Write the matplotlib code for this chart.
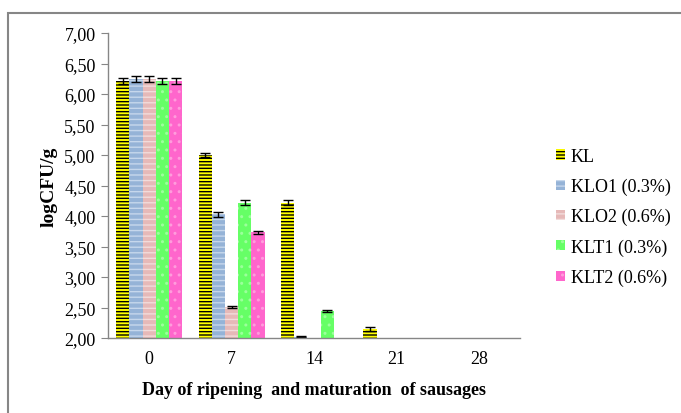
import numpy as np
import matplotlib
matplotlib.use("Agg")
import matplotlib.pyplot as plt
from matplotlib.ticker import FuncFormatter, MultipleLocator
from matplotlib.patches import Rectangle

plt.rcParams['font.family'] = ['Liberation Serif', 'DejaVu Serif']
plt.rcParams['hatch.linewidth'] = 1.0

days = ["0", "7", "14", "21", "28"]
series = ["KL", "KLO1 (0.3%)", "KLO2 (0.6%)", "KLT1 (0.3%)", "KLT2 (0.6%)"]
nan = np.nan
kl   = [6.21, 5.00, 4.22, 2.15, nan]
klo1 = [6.25, 4.03, 2.02, nan, nan]
klo2 = [6.25, 2.51, nan, nan, nan]
klt1 = [6.21, 4.22, 2.44, nan, nan]
klt2 = [6.21, 3.73, nan, nan, nan]
err_kl   = [0.05, 0.04, 0.04, 0.03, nan]
err_klo1 = [0.05, 0.04, 0.01, nan, nan]
err_klo2 = [0.05, 0.02, nan, nan, nan]
err_klt1 = [0.05, 0.04, 0.02, nan, nan]
err_klt2 = [0.05, 0.03, nan, nan, nan]

values = [kl, klo1, klo2, klt1, klt2]
errors = [err_kl, err_klo1, err_klo2, err_klt1, err_klt2]
faces = ['#FFFF00', '#95B3D7', '#E6B9B8', '#66FF66', '#FF66CC']
hatchc = ['#000000', '#C6D7EC', '#F2DCDB', '#9CFF9C', '#FF9CDC']
hatches = ['-----', '---', '---', '..', '..']

fig = plt.figure(figsize=(6.81, 4.14), dpi=100)
ax = fig.add_axes([108/681, (414-339)/414, (520-108)/681, (339-34)/414])

x = np.arange(len(days))
w = 0.16
base = 2.0
for i, (vals, errs) in enumerate(zip(values, errors)):
    v = np.array(vals, dtype=float)
    pos = x - 0.4 + w/2 + i*w
    ax.bar(pos, v - base, bottom=base, width=w, color=faces[i],
           edgecolor=hatchc[i], linewidth=0, hatch=hatches[i], label=series[i])
    ax.errorbar(pos, v, yerr=np.array(errs, dtype=float), fmt='none',
                ecolor='black', elinewidth=1, capsize=3.6, capthick=1)

ax.set_xlim(-0.5, 4.5)
ax.set_ylim(2.0, 7.0)
ax.yaxis.set_major_locator(MultipleLocator(0.5))
ax.yaxis.set_major_formatter(FuncFormatter(lambda v, p: f"{v:.2f}".replace('.', ',')))
ax.set_xticks(x)
ax.set_xticklabels(days)
ax.tick_params(axis='x', length=0, labelsize=13, pad=9)
ax.tick_params(axis='y', length=5, color='#868686', labelsize=13, direction='out', pad=4)
for s in ['top', 'right']:
    ax.spines[s].set_visible(False)
ax.spines['left'].set_color('#868686')
ax.spines['bottom'].set_color('#868686')
ax.spines['left'].set_linewidth(1)
ax.spines['bottom'].set_linewidth(1)

ax.set_ylabel("logCFU/g", fontsize=14, fontweight='bold', labelpad=5)
ax.set_xlabel("Day of ripening  and maturation  of sausages", fontsize=13,
              fontweight='bold', labelpad=10)

leg = fig.legend(loc='center left', bbox_to_anchor=(540/681, (414-218)/414),
                 frameon=False, fontsize=13, labelspacing=0.72,
                 handlelength=0.5, handleheight=0.5, handletextpad=0.3)

frame = Rectangle((8/681, -0.2), 1.0, (414-14)/414 + 0.2, transform=fig.transFigure,
                  fill=False, edgecolor='#868686', linewidth=1.5, clip_on=False)
fig.patches.append(frame)

fig.savefig("out.png", dpi=100)
